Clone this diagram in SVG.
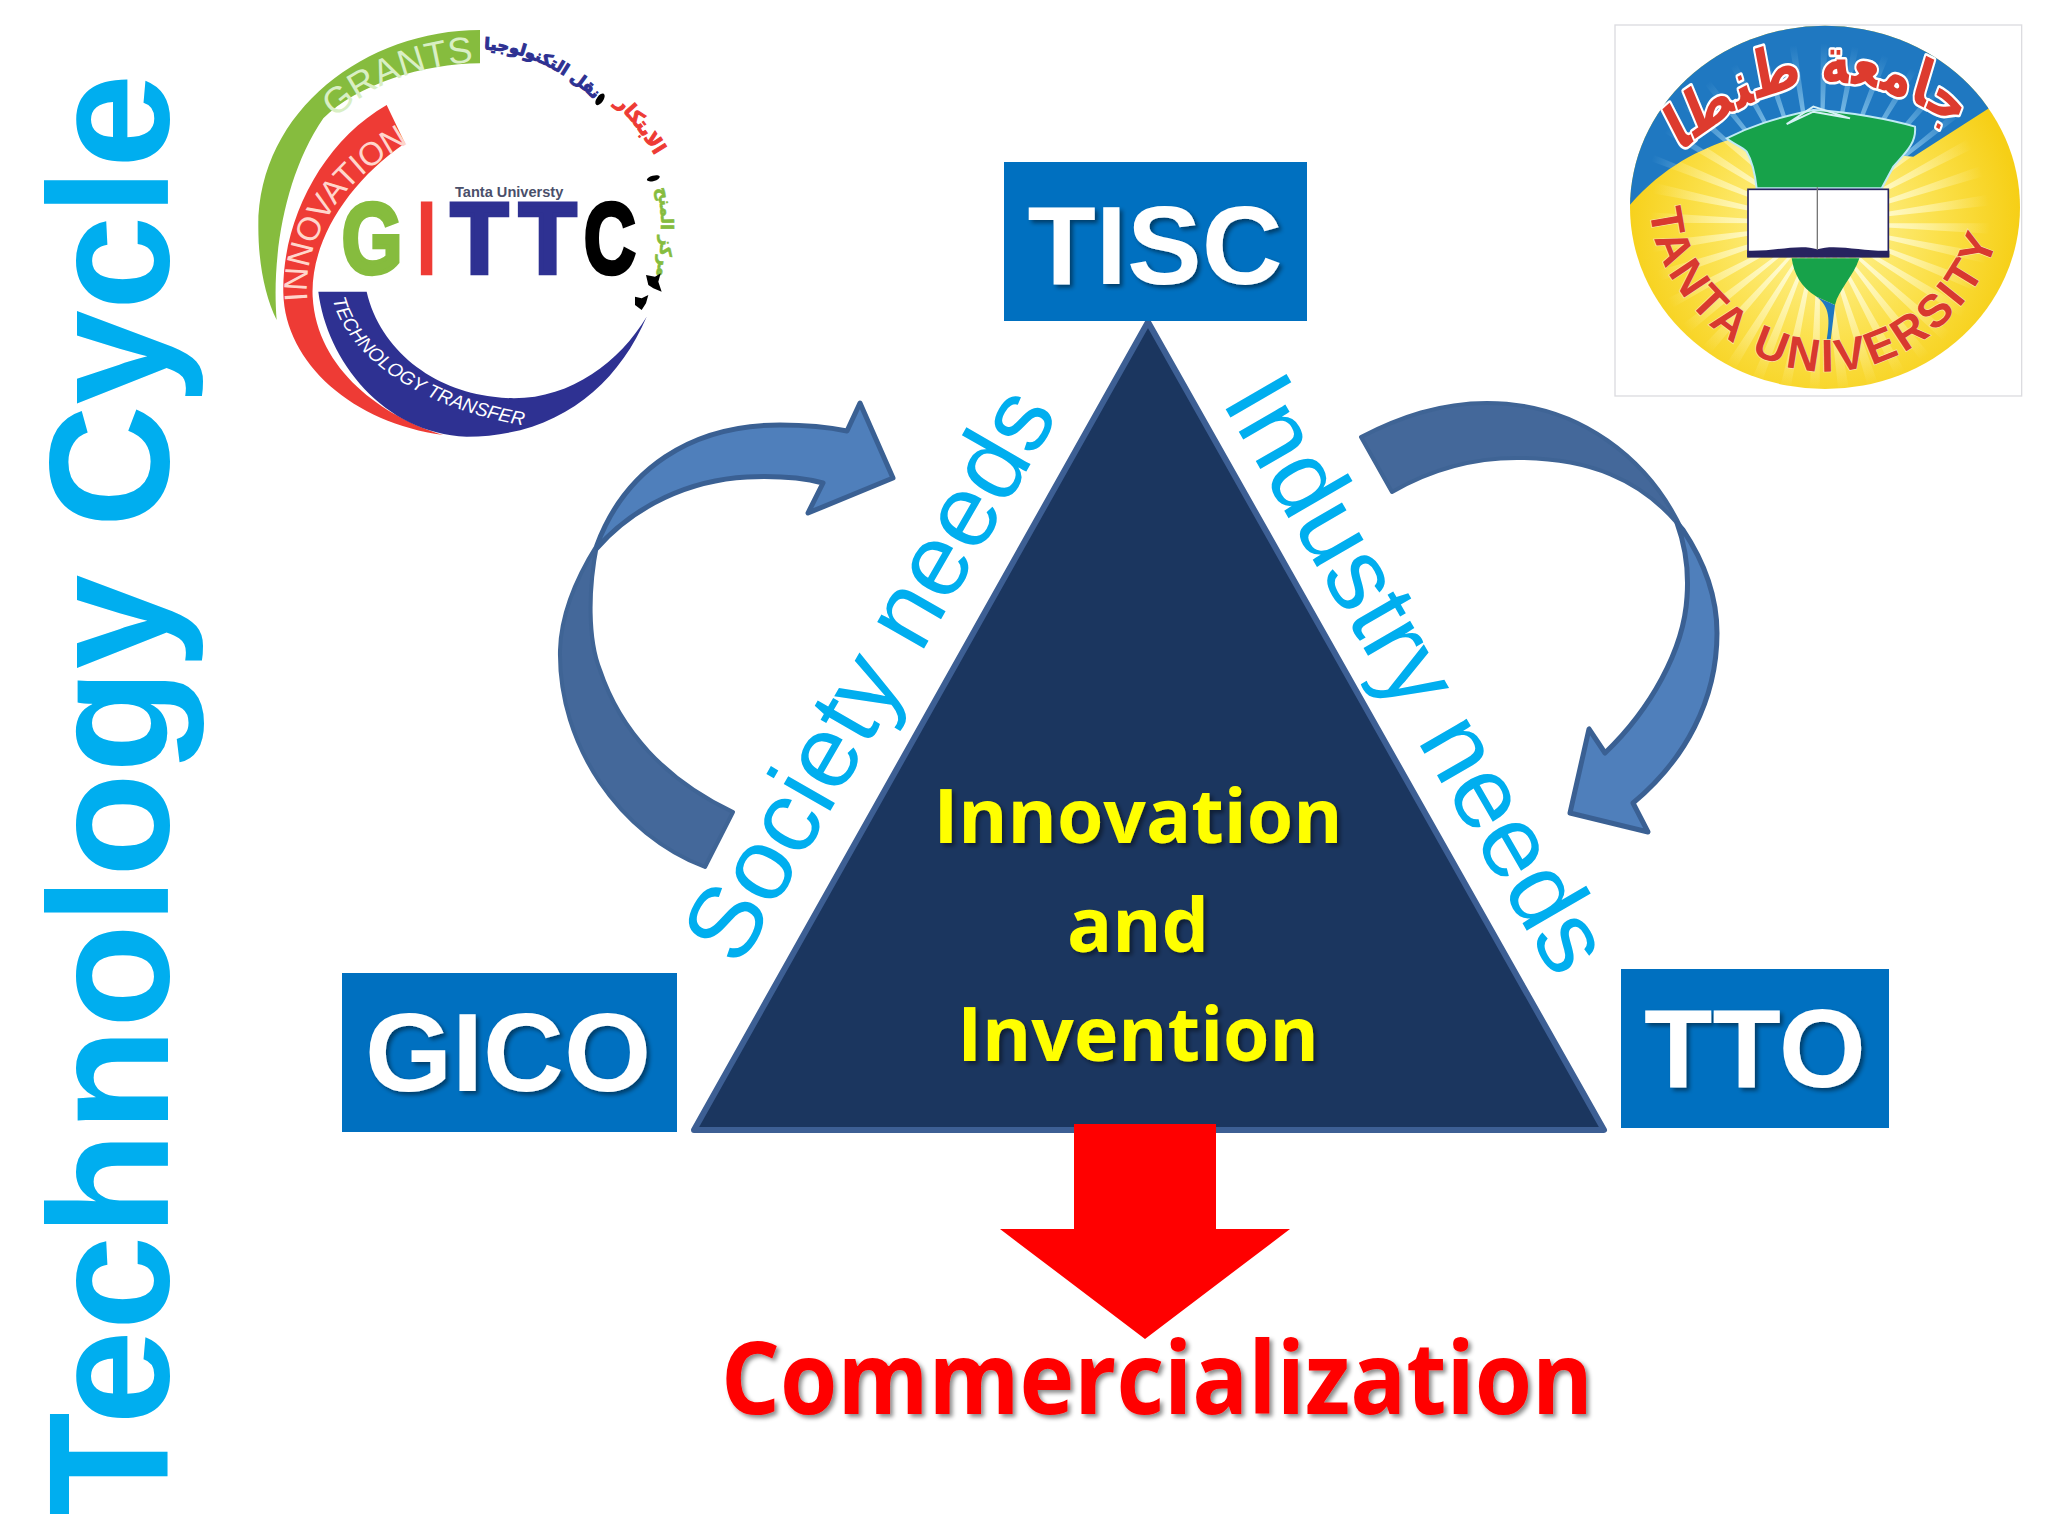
<svg xmlns="http://www.w3.org/2000/svg" width="2048" height="1536" viewBox="0 0 2048 1536">
<style>
.sans{font-family:"Liberation Sans",Arial,sans-serif}
.box{fill:#0070c0}
.boxt{font-family:"Liberation Sans",Arial,sans-serif;font-weight:700;font-size:112px;fill:#fff;text-anchor:middle;filter:url(#sh)}
.inv{font-family:"Open Sans","Noto Sans",sans-serif;font-weight:700;font-size:75px;fill:#ffff00;text-anchor:middle;filter:url(#sh)}
.need{font-family:"Liberation Sans",Arial,sans-serif;fill:#00aeef}
.dk{fill:#44689a;stroke:#3f6495;stroke-width:4;stroke-linejoin:round}
.lt{fill:#4f7fbb;stroke:#3a6093;stroke-width:5;stroke-linejoin:round}
.ar{font-family:"DejaVu Sans",sans-serif;font-weight:700}
</style>
<defs>
<filter id="sh" x="-10%" y="-10%" width="120%" height="130%"><feDropShadow dx="3" dy="3" stdDeviation="2" flood-color="#000" flood-opacity=".45"/></filter>
<radialGradient id="yel" gradientUnits="userSpaceOnUse" cx="660" cy="640" r="600"><stop offset="0" stop-color="#fff6a6"/><stop offset=".6" stop-color="#fbe04a"/><stop offset="1" stop-color="#f6cf16"/></radialGradient>
<radialGradient id="ray" gradientUnits="userSpaceOnUse" cx="660" cy="640" r="600"><stop offset=".3" stop-color="#fffbd0" stop-opacity=".95"/><stop offset=".85" stop-color="#fffbd0" stop-opacity="0"/></radialGradient>
<radialGradient id="bray" gradientUnits="userSpaceOnUse" cx="660" cy="640" r="600"><stop offset=".55" stop-color="#8fcbee" stop-opacity=".8"/><stop offset=".9" stop-color="#8fcbee" stop-opacity="0"/></radialGradient>
<clipPath id="disc"><ellipse cx="675" cy="592" rx="585" ry="545"/></clipPath>
<clipPath id="sky"><path d="M60,620 C170,480 290,420 400,385 L940,440 L1190,280 L1300,0 L0,0 Z"/></clipPath>
<path id="pGrants" d="M285,326 Q450,170 725,154"/>
<path id="pInnov" d="M203,872 C185,690 300,510 505,400"/>
<path id="pTech" d="M278,868 C320,1030 520,1190 850,1246"/>
<path id="pA1" d="M732,118 Q920,125 1085,290"/>
<path id="pA2" d="M1125,280 Q1195,345 1270,480"/>
<path id="pA3" d="M1250,535 Q1278,640 1250,790"/>
<path id="pTop" d="M240,430 Q700,106 1160,430"/>
<path id="pBot" d="M150,600 C170,860 420,1085 680,1085 C940,1085 1190,860 1212,580"/>
</defs>
<rect width="2048" height="1536" fill="#fff"/>

<text id="title" class="sans" transform="translate(168,1516) rotate(-90)" font-size="170" font-weight="700" fill="#00aeef">Technology Cycle</text>

<g id="logo-gittc" transform="translate(240,10) scale(.33333)">
<path fill="#86bc3e" d="M720,60 C380,60 55,300 55,650 C55,760 75,860 110,930 C95,750 130,500 250,325 C350,225 550,160 720,160 Z"/>
<path fill="#ee3b35" d="M440,285 C240,400 125,640 130,850 C135,1060 340,1240 610,1275 C430,1220 230,1080 218,860 C210,700 320,520 495,400 Z"/>
<path fill="#2e3192" d="M235,845 L380,845 C420,1020 580,1140 760,1160 C960,1190 1130,1070 1220,920 C1130,1130 950,1280 680,1280 C430,1270 260,1050 235,845 Z"/>
<text class="sans" font-size="110" fill="#d9efc4"><textPath href="#pGrants">GRANTS</textPath></text>
<text class="sans" font-size="98" fill="#ffd6cc"><textPath href="#pInnov">INNOVATION</textPath></text>
<text class="sans" font-size="57" font-style="italic" fill="#fff"><textPath href="#pTech">TECHNOLOGY TRANSFER</textPath></text>
<text class="sans" x="645" y="560" font-size="44" font-weight="700" fill="#4a4f6a" textLength="325" lengthAdjust="spacingAndGlyphs">Tanta Universty</text>
<text class="sans" y="790" font-size="300" font-weight="700" stroke-width="14" stroke-linejoin="miter"><tspan x="305" fill="#86bc3e" stroke="#86bc3e" textLength="182" lengthAdjust="spacingAndGlyphs">G</tspan><tspan x="535" fill="#ee3b35" stroke="#ee3b35" textLength="50" lengthAdjust="spacingAndGlyphs">I</tspan><tspan x="632" fill="#2e3192" stroke="#2e3192" textLength="172" lengthAdjust="spacingAndGlyphs">T</tspan><tspan x="837" fill="#2e3192" stroke="#2e3192" textLength="172" lengthAdjust="spacingAndGlyphs">T</tspan><tspan x="1032" fill="#000" stroke="#000" textLength="155" lengthAdjust="spacingAndGlyphs">C</tspan></text>
<text class="ar" font-size="49" fill="#2e3192" stroke="#2e3192" stroke-width="3"><textPath href="#pA1">نقل التكنولوجيا</textPath></text>
<ellipse cx="1080" cy="268" rx="10" ry="20" transform="rotate(35 1080 268)"/>
<text class="ar" font-size="58" fill="#ee3b35" stroke="#ee3b35" stroke-width="3"><textPath href="#pA2">الابتكار</textPath></text>
<ellipse cx="1240" cy="505" rx="20" ry="8" transform="rotate(-15 1240 505)"/>
<text class="ar" font-size="50" fill="#86bc3e" stroke="#86bc3e" stroke-width="2"><textPath href="#pA3">مركز المنح</textPath></text>
<path d="M1218,795 L1245,800 L1262,790 L1255,815 L1265,845 L1240,835 L1225,825 Z M1185,860 L1205,865 L1225,855 L1218,880 L1205,900 L1185,885 Z"/>
</g>

<g id="logo-tanta" transform="translate(1600,10) scale(.33333)">
<rect x="45" y="45" width="1220" height="1113" fill="#fff" stroke="#dcdce0" stroke-width="4"/>
<ellipse cx="675" cy="592" rx="585" ry="545" fill="url(#yel)"/>
<g clip-path="url(#disc)">
<circle cx="660" cy="640" r="320" fill="none" stroke="url(#ray)" stroke-width="560" stroke-dasharray="20 35.85"/>
<g clip-path="url(#sky)"><rect width="1344" height="700" fill="#1f78c1"/>
<circle cx="660" cy="640" r="320" fill="none" stroke="url(#bray)" stroke-width="560" stroke-dasharray="12 43.85"/></g>
</g>
<path fill="#17a24a" stroke="#bfeaf5" stroke-width="6" d="M380,385 C450,350 520,325 640,300 C750,305 880,330 945,350 C950,400 915,430 880,470 L845,535 L470,535 C465,490 455,450 440,425 C425,410 395,400 380,385 Z"/>
<path fill="none" stroke="#d6f1f6" stroke-width="6" d="M560,342 L640,290 L750,325 L640,305 Z"/>
<path fill="#17a24a" d="M575,745 L778,745 C760,800 715,840 705,885 L650,860 C600,830 582,790 575,745 Z"/>
<path fill="#1f78c1" d="M650,860 C670,870 695,880 705,885 L692,990 L680,990 C690,930 690,890 650,860 Z"/>
<rect x="444" y="538" width="421" height="202" fill="#fff" stroke="#27235f" stroke-width="5"/>
<path fill="#27235f" d="M442,742 L442,722 C520,725 600,700 652,718 C705,700 790,725 868,722 L868,742 Z"/>
<line x1="652" y1="532" x2="652" y2="720" stroke="#777" stroke-width="4"/>
<g transform="translate(640,430) scale(1,1.3) translate(-640,-430)">
<text class="ar" font-size="150" fill="#dd3b2e" stroke="#fff" stroke-width="12" paint-order="stroke" stroke-linejoin="round"><textPath href="#pTop">جامعة طنطا</textPath></text></g>
<text class="sans" font-size="138" font-weight="700" fill="#d8392f" stroke="#fbe7a0" stroke-width="4" paint-order="stroke" letter-spacing="11"><textPath href="#pBot">TANTA UNIVERSITY</textPath></text>
</g>

<g id="triangle"><path d="M1148,322 L1604,1130 L694,1130 Z" fill="#1b365f" stroke="#3d5f94" stroke-width="6" stroke-linejoin="round"/>
<text class="inv" x="1138" y="843">Innovation</text>
<text class="inv" x="1138" y="952">and</text>
<text class="inv" x="1138" y="1061">Invention</text></g>

<g id="tisc"><rect class="box" x="1004" y="162" width="303" height="159"/><text class="boxt" x="1155" y="284">TISC</text></g>
<g id="gico"><rect class="box" x="342" y="973" width="335" height="159"/><text class="boxt" x="508" y="1091">GICO</text></g>
<g id="tto"><rect class="box" x="1621" y="969" width="268" height="159"/><text class="boxt" x="1755" y="1087">TTO</text></g>

<g id="connectors">
<path class="dk" d="M733,812 L705,867 C620,835 558,745 560,650 C561,615 575,580 597,545 C588,590 588,640 600,670 C620,730 665,780 733,812 Z"/>
<path class="lt" d="M597,545 C625,470 690,425 780,425 C805,425 828,427 847,431 L860,403 L893,478 L808,513 L823,483 C800,477 770,476 747,477 C690,480 635,505 597,548 Z"/>
<path class="dk" d="M1361,437 L1392,492 C1430,470 1470,458 1517,458 C1590,458 1640,480 1677,523 L1683,532 C1650,460 1580,403 1487,403 C1440,403 1400,417 1361,437 Z"/>
<path class="lt" d="M1677,523 C1685,545 1689,570 1687,597 C1684,650 1650,710 1605,753 L1589,729 L1570,813 L1648,832 L1633,803 C1685,760 1717,700 1717,633 C1717,595 1703,560 1683,530 Z"/>
<path d="M1074,1124 L1216,1124 L1216,1229 L1290,1229 L1145,1339 L1000,1229 L1074,1229 Z" fill="#ff0000"/>
</g>

<text class="need" font-size="102" transform="translate(739,969) rotate(-60)">Society needs</text>
<text class="need" font-size="102" transform="translate(1221,401) rotate(60)">Industry needs</text>
<text id="commercialization" x="721" y="1414" font-family="'Open Sans','Noto Sans',sans-serif" font-weight="700" font-size="100" fill="#ff0000" textLength="872" lengthAdjust="spacingAndGlyphs" filter="url(#sh)">Commercialization</text>
</svg>
